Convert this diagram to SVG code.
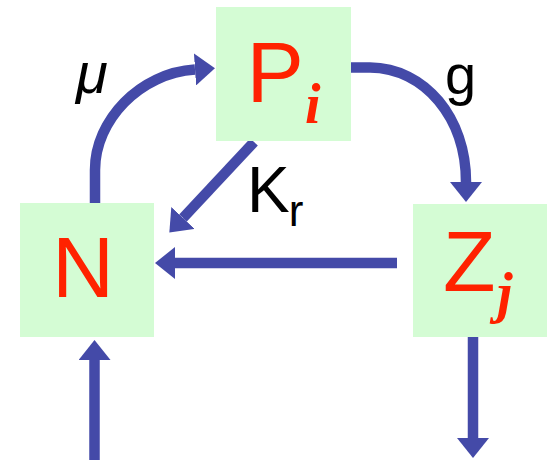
<svg xmlns="http://www.w3.org/2000/svg" width="548" height="461" viewBox="0 0 548 461">
<style>
.box{fill:#d4fcd4;stroke:none}
.big{font-family:"Liberation Sans",Arial,sans-serif;font-size:86px;fill:#ff2200}
.sub{font-family:"Liberation Serif","Times New Roman",serif;font-style:italic;font-weight:bold;font-size:56px}
.lbl{font-family:"Liberation Sans",Arial,sans-serif;fill:#000}
.arr{fill:none;stroke:#444aa8;stroke-width:10.5;stroke-linecap:butt;marker-end:url(#head)}
</style>
<defs>
<marker id="head" markerUnits="userSpaceOnUse" markerWidth="21" markerHeight="32" refX="0" refY="16" orient="auto" viewBox="0 0 21 32">
<path d="M0,0 L20,16 L0,32 Z" fill="#444aa8"/>
</marker>
</defs>
<rect width="548" height="461" fill="#fff"/>
<g id="connectors">
<path class="arr" d="M95,204 L95,170 C95,120 140,73 195,69.5"/>
<path class="arr" d="M351,67.5 L370,67.5 C425,68 466,118 466,182"/>
<path class="arr" d="M254,142 L183,218"/>
<path class="arr" d="M397,263 L175,263"/>
<path class="arr" d="M94.5,460 L94.5,360"/>
<path class="arr" d="M473,337 L473,438"/>
</g>
<g id="node-P">
<rect class="box" x="216" y="7" width="135" height="134"/>
<text class="big" x="246.5" y="101.7">P<tspan class="sub" dx="1" dy="21.3">i</tspan></text>
</g>
<g id="node-N">
<rect class="box" x="20" y="203" width="134" height="134"/>
<text class="big" x="52" y="297">N</text>
</g>
<g id="node-Z">
<rect class="box" x="413" y="204" width="134" height="133"/>
<text class="big" x="443" y="291">Z<tspan class="sub" dx="1.5" dy="21">j</tspan></text>
</g>
<g id="labels">
<text class="lbl" x="76" y="93" font-size="58" font-style="italic">μ</text>
<text class="lbl" x="445" y="94" font-size="56">g</text>
<text class="lbl" x="247" y="211.7" font-size="64">K<tspan font-size="44" dx="-1" dy="14.3">r</tspan></text>
</g>
</svg>
